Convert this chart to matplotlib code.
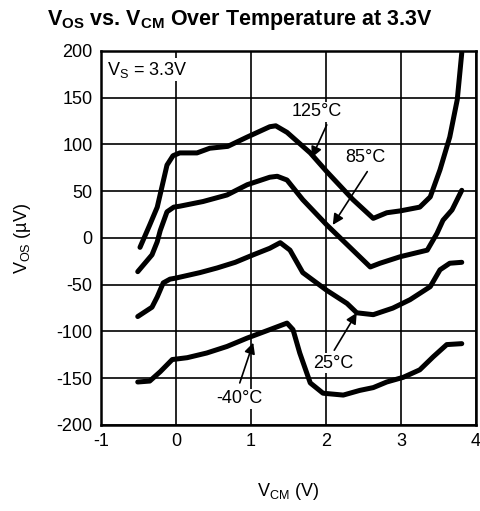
import matplotlib
matplotlib.use("Agg")
import matplotlib.pyplot as plt

plt.rcParams['font.family'] = ['Liberation Sans', 'DejaVu Sans']
plt.rcParams['mathtext.fontset'] = 'custom'
plt.rcParams['mathtext.rm'] = 'Liberation Sans'
plt.rcParams['mathtext.bf'] = 'Liberation Sans:bold'
plt.rcParams['axes.unicode_minus'] = False

# Curvas (VCM en V, VOS en uV)
x_125 = [-0.48, -0.35, -0.25, -0.12, -0.04, 0.05, 0.28, 0.45, 0.69, 0.95, 1.25, 1.33, 1.48, 1.79, 2.01,
         2.36, 2.63, 2.81, 2.99, 3.25, 3.39, 3.52, 3.65, 3.75, 3.81]
y_125 = [-10, 14, 33, 78, 88, 91, 91, 96, 98, 108, 119, 120, 113, 91, 71,
         41, 21, 27, 29, 33, 44, 73, 108, 148, 198]

x_85 = [-0.51, -0.32, -0.25, -0.21, -0.12, -0.03, 0.05, 0.36, 0.68, 0.95, 1.25, 1.35, 1.48, 1.69, 2.01,
        2.59, 2.72, 2.99, 3.35, 3.48, 3.56, 3.68, 3.81]
y_85 = [-36, -18, -4, 8, 28, 33, 34, 39, 46, 57, 65, 66, 62, 41, 14,
        -31, -27, -20, -13, 5, 19, 30, 51]

x_25 = [-0.51, -0.32, -0.25, -0.17, -0.08, -0.01, 0.32, 0.55, 0.79, 1.03, 1.25, 1.39, 1.52, 1.69, 2.01,
        2.28, 2.41, 2.63, 2.89, 3.12, 3.39, 3.52, 3.65, 3.81]
y_25 = [-84, -74, -63, -48, -44, -43, -37, -32, -26, -18, -11, -5, -13, -37, -56,
        -70, -80, -82, -75, -66, -52, -34, -27, -26]

x_m40 = [-0.51, -0.35, -0.21, -0.05, 0.15, 0.41, 0.68, 0.95, 1.25, 1.48, 1.56, 1.65, 1.79, 1.96,
         2.23, 2.45, 2.63, 2.81, 3.03, 3.25, 3.43, 3.61, 3.81]
y_m40 = [-154, -153, -143, -130, -128, -123, -116, -107, -98, -91, -98, -123, -155, -166,
         -168, -163, -160, -154, -149, -141, -127, -114, -113]

fig = plt.figure(figsize=(4.8, 5.11), dpi=100)
ax = fig.add_axes([0.2104, 0.1683, 0.7813, 0.7319])

for xs, ys in [(x_125, y_125), (x_85, y_85), (x_25, y_25), (x_m40, y_m40)]:
    ax.plot(xs, ys, color='black', lw=3.6, solid_capstyle='round', solid_joinstyle='round', zorder=3)

ax.set_xlim(-1, 4)
ax.set_ylim(-200, 200)
ax.set_xticks([-1, 0, 1, 2, 3, 4])
ax.set_yticks(range(-200, 201, 50))
ax.grid(True, color='black', lw=1.2)
for s in ax.spines.values():
    s.set_linewidth(1.8)
ax.tick_params(length=0, labelsize=13, pad=6)

caja = dict(facecolor='white', edgecolor='none', pad=1)
ax.text(-0.92, 180, r'V$_\mathrm{S}$ = 3.3V', fontsize=13, va='center', ha='left', bbox=caja, zorder=4)

# Etiquetas de temperatura con flechas
arrow = dict(arrowstyle='-|>', color='black', lw=1.2, mutation_scale=16, shrinkA=0, shrinkB=0)
ax.text(1.87, 135, '125°C', ha='center', va='center', fontsize=13, bbox=caja, zorder=4)
ax.annotate('', xy=(1.81, 86), xytext=(2.01, 121), arrowprops=arrow)
ax.text(2.53, 86, '85°C', ha='center', va='center', fontsize=13, bbox=caja, zorder=4)
ax.annotate('', xy=(2.09, 14), xytext=(2.55, 71), arrowprops=arrow)
ax.text(2.09, -134, '25°C', ha='center', va='center', fontsize=13, bbox=caja, zorder=4)
ax.annotate('', xy=(2.41, -80), xytext=(2.11, -120), arrowprops=arrow)
ax.text(0.85, -172, '-40°C', ha='center', va='center', fontsize=13, bbox=caja, zorder=4)
ax.annotate('', xy=(1.03, -112), xytext=(0.85, -155), arrowprops=arrow)

ax.set_ylabel(r'V$_\mathrm{OS}$ (µV)', fontsize=13, labelpad=17)
ax.set_xlabel(r'V$_\mathrm{CM}$ (V)', fontsize=13, labelpad=22)
fig.text(0.5, 0.96, r'$\mathbf{V_{OS}}$ vs. $\mathbf{V_{CM}}$ Over Temperature at 3.3V',
         ha='center', va='center', fontsize=15.5, fontweight='bold')

fig.savefig('out.png', dpi=100)
